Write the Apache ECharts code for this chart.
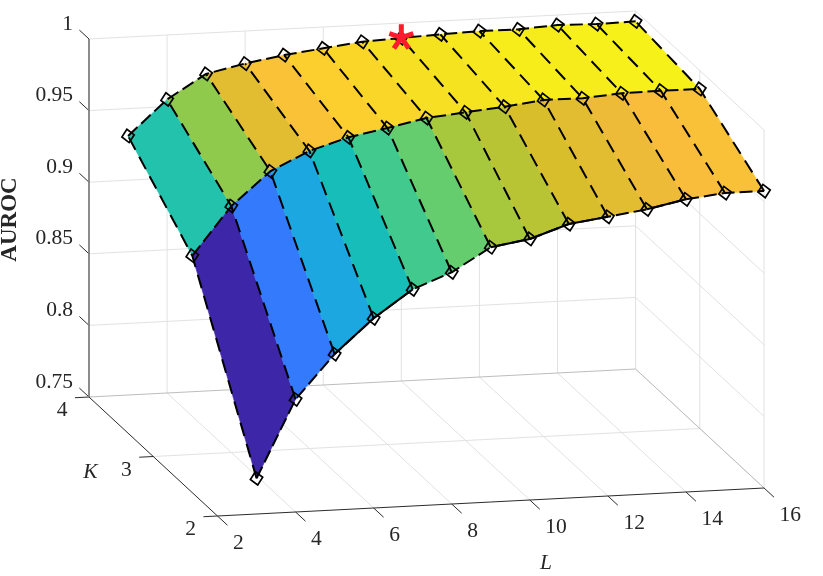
<!DOCTYPE html>
<html>
<head>
<meta charset="utf-8">
<style>html,body{margin:0;padding:0;background:#fff}#c{width:823px;height:576px}</style>
<script src="https://cdn.jsdelivr.net/npm/echarts@6/dist/echarts.min.js"></script>
</head>
<body>
<div id="c"></div>
<script>
// ---- data ----
var lValues = [3,4,5,6,7,8,9,10,11,12,13,14,15,16];
var kValues = [2,3,4];
var aurocK2 = [0.7749,0.8287,0.8589,0.8825,0.9013,0.9118,0.9279,0.9323,0.9413,0.9450,0.9488,0.9544,0.9574,0.9574];
var aurocK3 = [0.8888,0.9221,0.9450,0.9578,0.9659,0.9710,0.9766,0.9792,0.9817,0.9850,0.9848,0.9869,0.9873,0.9871];
var aurocK4 = [0.9309,0.9550,0.9714,0.9773,0.9818,0.9851,0.9883,0.9895,0.9907,0.9916,0.9914,0.9930,0.9923,0.9928];
var bestPoint = [10,4,0.9900];
var frontSolidSteps = [5,6,9,10,11,13]; // L where the K=2 edge reads as solid up to L+1
var lTicks = [2,4,6,8,10,12,14,16];
var kTicks = [2,3,4];
var zTicks = [0.75,0.8,0.85,0.9,0.95,1];
var zTickLabels = ['0.75','0.8','0.85','0.9','0.95','1'];
var parula = ['#3e26a8','#4537d5','#484df0','#4563fd','#327bfc','#2b91ef','#20a5e3','#08b5d0','#19bfb6','#37c897','#64cd6f','#9dc943','#d1bf27','#f8ba3d','#fcce2e','#f5e41f','#f9fb15'];

// ---- orthographic projection of (L, K, AUROC) to the hidden cartesian plane ----
var PLOT_W = 823, PLOT_H = 576;
function project(L, K, z) {
  return [
    217.5 + (L - 2) * 39.04 - (K - 2) * 64.25,
    516 - (L - 2) * 2 - (K - 2) * 59.5 - (z - 0.75) * 1432
  ];
}
var rows = [aurocK2, aurocK3, aurocK4];

// ---- segments (grid, box, axes, ticks) ----
var gridSegs = [], edgeSegs = [], zAxisSegs = [], axisSegs = [];
function seg(list, a, b) { list.push(project(a[0],a[1],a[2]).concat(project(b[0],b[1],b[2]))); }
lTicks.forEach(function (L) {
  if (L > 2) seg(gridSegs, [L,2,0.75], [L,4,0.75]);
  if (L > 2) seg(gridSegs, [L,4,0.75], [L,4,1]);
  seg(axisSegs, [L,2,0.75], [L,1.845,0.75]);
});
kTicks.forEach(function (K) {
  if (K === 3) seg(gridSegs, [2,K,0.75], [16,K,0.75]);
  seg(gridSegs, [16,K,0.75], [16,K,1]);
  seg(axisSegs, [2,K,0.75], [1.64,K,0.75]);
});
zTicks.forEach(function (z) {
  if (z > 0.75) {
    seg(gridSegs, [2,4,z], [16,4,z]);
    seg(gridSegs, [16,4,z], [16,2,z]);
  }
  seg(axisSegs, [2,4,z], [2,4.15,z]);
});
seg(edgeSegs, [2,4,0.75], [16,4,0.75]);
seg(edgeSegs, [16,4,0.75], [16,2,0.75]);
seg(axisSegs, [2,2,0.75], [16,2,0.75]);
seg(axisSegs, [2,2,0.75], [2,4,0.75]);
seg(zAxisSegs, [2,4,0.75], [2,4,1]);

function segSeries(list, color, width, z) {
  return {
    type: 'custom', coordinateSystem: 'cartesian2d', silent: true, clip: false, z: z,
    data: list,
    renderItem: function (p, api) {
      var a = api.coord([api.value(0), api.value(1)]);
      var b = api.coord([api.value(2), api.value(3)]);
      return { type: 'line', shape: { x1: a[0], y1: a[1], x2: b[0], y2: b[1] },
               style: { stroke: color, lineWidth: width, fill: null } };
    },
    encode: { x: [0, 2], y: [1, 3] }
  };
}

// ---- surface faces: colour from first vertex of every face ----
var faces = [];
[1, 0].forEach(function (r) {
  for (var i = 0; i < lValues.length - 1; i++) faces.push([lValues[i], kValues[r], rows[r][i], r, i]);
});
var surface = {
  type: 'custom', coordinateSystem: 'cartesian2d', silent: true, clip: false, z: 3,
  data: faces,
  dimensions: ['L','K','auroc','r','i'],
  encode: { x: 0, y: 1 },
  renderItem: function (p, api) {
    var r = api.value(3), i = api.value(4);
    var cs = [[i,r],[i+1,r],[i+1,r+1],[i,r+1]];
    var pts = cs.map(function (c) {
      return api.coord(project(lValues[c[0]], kValues[c[1]], rows[c[1]][c[0]]));
    });
    var col = api.visual('color');
    return { type: 'polygon', shape: { points: pts }, style: { fill: col, stroke: col, lineWidth: 0.6 } };
  }
};

// ---- dashed mesh ----
var mesh = [];
function meshLine(pts, dash) {
  mesh.push({ type: 'line', data: pts, showSymbol: false, symbol: 'none', silent: true, z: 4, clip: false,
    lineStyle: { color: '#000', width: 2, type: dash, cap: 'butt' } });
}
rows.forEach(function (row, r) {
  meshLine(row.map(function (z, i) { return project(lValues[i], kValues[r], z); }), [13, 5]);
});
lValues.forEach(function (L, i) {
  meshLine(rows.map(function (row, r) { return project(L, kValues[r], row[i]); }), [14, 8]);
});
frontSolidSteps.forEach(function (L) {
  var i = lValues.indexOf(L);
  meshLine([project(L, 2, aurocK2[i]), project(L + 1, 2, aurocK2[i + 1])], 'solid');
});

// ---- markers ----
var markerPts = [];
rows.forEach(function (row, r) {
  row.forEach(function (z, i) { markerPts.push(project(lValues[i], kValues[r], z)); });
});

// ---- text ----
var texts = [];
lTicks.forEach(function (L) {
  var q = project(L,2,0.75);
  texts.push([q[0] + 15.5, q[1] + 27, String(L), 'left', 'normal']);
});
kTicks.forEach(function (K) {
  var q = project(2,K,0.75);
  texts.push([q[0] - 27, q[1] + 13.5, String(K), 'center', 'normal']);
});
zTicks.forEach(function (z, i) {
  var q = project(2,4,z);
  texts.push([q[0] - 16, q[1] - 15, zTickLabels[i], 'right', 'normal']);
});
texts.push([90.5, 472, 'K', 'center', 'italic']);
texts.push([546, 563, 'L', 'center', 'italic']);
var textSeries = {
  type: 'custom', coordinateSystem: 'cartesian2d', silent: true, clip: false, z: 6,
  data: texts.map(function (t, i) { return [t[0], t[1], i]; }),
  encode: { x: 0, y: 1 },
  renderItem: function (p, api) {
    var t = texts[api.value(2)];
    var c = api.coord([api.value(0), api.value(1)]);
    return { type: 'text', x: c[0], y: c[1], style: {
      text: t[2], fill: '#262626', align: t[3], verticalAlign: 'middle',
      fontFamily: 'Liberation Serif', fontSize: 21.5, fontStyle: t[4] } };
  }
};
var titleSeries = {
  type: 'custom', coordinateSystem: 'cartesian2d', silent: true, clip: false, z: 6,
  data: [[10.5, 219.5]],
  encode: { x: 0, y: 1 },
  renderItem: function (p, api) {
    var c = api.coord([api.value(0), api.value(1)]);
    return { type: 'text', x: c[0], y: c[1], rotation: Math.PI / 2, style: {
      text: 'AUROC', fill: '#262626', align: 'center', verticalAlign: 'middle',
      fontFamily: 'Liberation Serif', fontWeight: 'bold', fontSize: 23 } };
  }
};

var starPath = 'path://M0,0L0,-12M0,0L11.4,-3.7M0,0L7.05,9.7M0,0L-7.05,9.7M0,0L-11.4,-3.7';

var chart = echarts.init(document.getElementById('c'), null, { renderer: 'canvas' });
chart.setOption({
  animation: false,
  backgroundColor: '#fff',
  grid: { left: 0, top: 0, right: 0, bottom: 0 },
  xAxis: { type: 'value', min: 0, max: PLOT_W, show: false },
  yAxis: { type: 'value', min: 0, max: PLOT_H, inverse: true, show: false },
  visualMap: { show: false, type: 'continuous', seriesIndex: 3, dimension: 2,
    min: 0.7749, max: 0.9935, inRange: { color: parula } },
  series: [
    segSeries(gridSegs, '#e2e2e2', 1, 1),
    segSeries(edgeSegs, '#bdbdbd', 1, 1),
    segSeries(axisSegs, '#2b2b2b', 1, 2),
    surface
  ].concat([segSeries(zAxisSegs, '#808080', 1.8, 2)]).concat(mesh).concat([
    { type: 'scatter', data: markerPts, symbol: 'diamond', symbolSize: [12.5, 13.5], symbolRotate: 10, silent: true, z: 5, clip: false,
      itemStyle: { color: 'transparent', borderColor: '#000', borderWidth: 1.7, opacity: 1 } },
    { type: 'scatter', data: [project(bestPoint[0], bestPoint[1], bestPoint[2])], symbol: starPath,
      symbolSize: 24, symbolOffset: [0, -1], silent: true, z: 7, clip: false,
      itemStyle: { color: 'none', borderColor: '#ff1a2e', borderWidth: 5, opacity: 1 } },
    textSeries, titleSeries
  ])
});
</script>
</body>
</html>
